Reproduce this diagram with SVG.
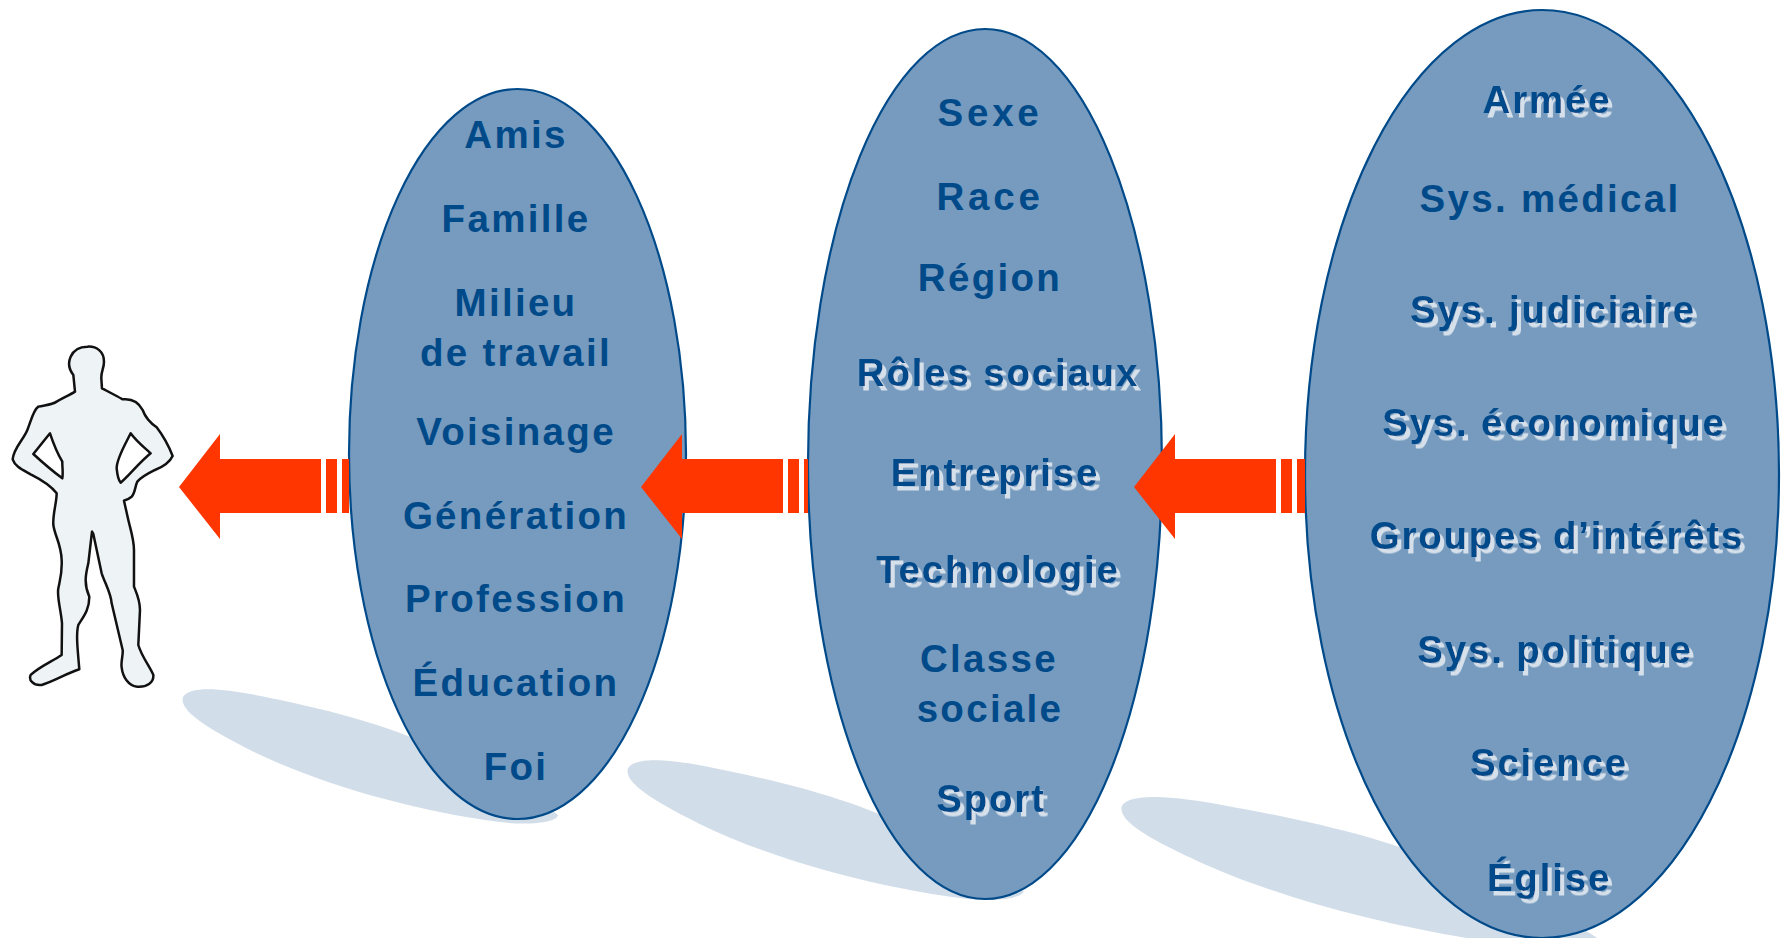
<svg xmlns="http://www.w3.org/2000/svg" width="1782" height="938" viewBox="0 0 1782 938">
<style>
.e{fill:#769bbf;stroke:#004a8a;stroke-width:2.2}
.s{fill:#d1dde9}
.a{fill:#ff3600}
text{font-family:"Liberation Sans",Arial,sans-serif;font-weight:700;font-size:38.5px;letter-spacing:2.3px;text-anchor:middle;fill:#004a8a}
text.d{letter-spacing:1.8px;filter:url(#ts)}
text.w{letter-spacing:3.8px}
</style>
<defs>
<filter id="ts" x="-10%" y="-20%" width="120%" height="150%"><feDropShadow dx="4" dy="4.5" stdDeviation="0.5" flood-color="#d5e0ea"/></filter>
<path id="sh" d="M183 697C190 685 225 688 270 698C330 710 400 728 450 755C500 785 540 800 558 815C558 822 530 826 500 822C420 812 320 785 250 750C215 732 178 712 183 697Z"/>
<path id="arrow" d="M179 487L220 434V459H321V513H220V539Z"/>
</defs>
<g id="shadows" class="s">
<use href="#sh"/>
<use href="#sh" transform="translate(628 761) scale(1.055 1.04) translate(-183 -690)"/>
<use href="#sh" transform="translate(1122 798) scale(1.267 1.12) translate(-183 -690)"/>
</g>
<g id="person"><path transform="translate(0 330) scale(.3333)" fill="#eef3f6" stroke="#111" stroke-width="7.5" stroke-linejoin="round" fill-rule="evenodd" d="M262 50C290 48 312 65 312 95C312 115 303 125 304 145L306 175C325 185 345 195 368 208C395 205 415 215 428 240C437 265 450 278 470 292C490 318 505 345 518 378C510 395 490 410 465 420C445 430 425 440 412 455C405 470 405 490 395 500C385 508 378 510 372 512L385 570C392 600 402 630 402 660L402 770C410 790 420 810 420 840L415 945C425 980 450 1010 460 1035C462 1058 440 1072 412 1070C385 1068 368 1040 365 1012C362 995 370 975 368 960L335 820C333 790 315 760 305 730L280 612L276 605L265 700C258 730 250 760 268 800C268 840 250 860 235 885C228 910 232 950 238 1018C200 1030 160 1055 125 1065C100 1068 85 1050 92 1035C115 1012 155 995 185 975L186 880C183 840 170 800 175 775C180 750 187 730 185 690C183 640 165 620 160 585C158 550 170 520 170 490C150 465 125 450 95 435C70 420 45 410 38 388C40 355 70 330 82 300C92 275 100 240 115 230C135 225 155 225 170 215C190 203 210 195 225 185L220 135C205 115 205 95 212 80C222 58 240 50 262 50ZM150 310L100 372C125 395 160 425 187 445C190 425 186 405 187 395C172 370 160 340 150 310ZM392 310C375 345 350 385 350 415C352 435 355 450 362 458C385 440 415 400 452 370C430 350 410 335 392 310Z"/></g>
<g id="node-1"><ellipse class="e" cx="517.5" cy="454" rx="168.5" ry="365"/>
<text x="516" y="148">Amis</text><text x="516" y="232">Famille</text><text x="516" y="316">Milieu</text><text x="516" y="366">de travail</text><text x="516" y="445">Voisinage</text><text x="516" y="529">Génération</text><text x="516" y="612">Profession</text><text x="516" y="696">Éducation</text><text x="516" y="780">Foi</text></g>
<g id="node-2"><ellipse class="e" cx="985" cy="464" rx="177" ry="435"/>
<text class="w" x="990" y="126">Sexe</text><text class="w" x="990" y="210">Race</text><text x="990" y="291">Région</text><text class="d" x="998" y="386">Rôles sociaux</text><text class="d" x="995" y="486">Entreprise</text><text class="d" x="998" y="583">Technologie</text><text x="989" y="672">Classe</text><text x="990" y="722">sociale</text><text class="d" x="991" y="812">Sport</text></g>
<g id="node-3"><ellipse class="e" cx="1542" cy="474" rx="237" ry="464"/>
<text class="d" x="1547" y="113">Armée</text><text x="1550" y="212">Sys. médical</text><text class="d" x="1553" y="323">Sys. judiciaire</text><text class="d" x="1554" y="436">Sys. économique</text><text class="d" x="1557" y="549">Groupes d’intérêts</text><text class="d" x="1555" y="663">Sys. politique</text><text class="d" x="1549" y="776">Science</text><text class="d" x="1549" y="891">Église</text></g>
<g id="connectors" class="a">
<use href="#arrow"/><rect x="326" y="459" width="11" height="54"/><rect x="342" y="459" width="7" height="54"/>
<use href="#arrow" x="462"/><rect x="788" y="459" width="11" height="54"/><rect x="804" y="459" width="4" height="54"/>
<use href="#arrow" x="955"/><rect x="1281" y="459" width="11" height="54"/><rect x="1297" y="459" width="8" height="54"/>
</g>
</svg>
